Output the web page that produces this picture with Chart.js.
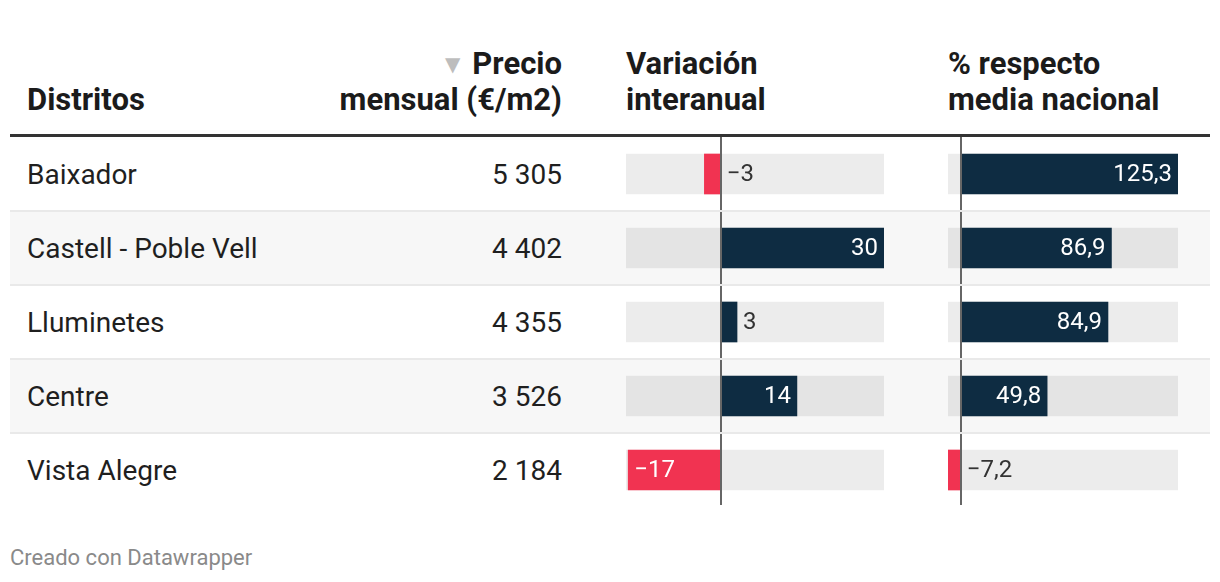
<!DOCTYPE html>
<html><head><meta charset="utf-8">
<script src="https://cdn.jsdelivr.net/npm/chart.js@4.4.1/dist/chart.umd.min.js"></script>
<style>
html,body{margin:0;padding:0;background:#fff;}
#root{position:relative;width:1220px;height:582px;overflow:hidden;font-family:Roboto,"Noto Sans",sans-serif;color:#1d1d1d;}
.abs{position:absolute;white-space:nowrap;}
.hdr{font-weight:700;font-size:31px;line-height:36px;color:#1b1b1b;}
.cell{font-size:28px;line-height:74px;color:#1f1f1f;}
</style></head><body><div id="root"></div>
<script>
// ---- data ----
const districts = ["Baixador", "Castell - Poble Vell", "Lluminetes", "Centre", "Vista Alegre"];
const prices = [5305, 4402, 4355, 3526, 2184];
const variacion = [-3, 30, 3, 14, -17];
const respectoMedia = [125.3, 86.9, 84.9, 49.8, -7.2];
const headerDistritos = "Distritos";
const headerPrecio = ["Precio", "mensual (€/m2)"];
const headerVariacion = ["Variación", "interanual"];
const headerRespecto = ["% respecto", "media nacional"];
const footerText = "Creado con Datawrapper";

// ---- layout ----
const root = document.getElementById('root');
const TOP = 137, ROWH = 74;
function div(cls, style, html){ const d=document.createElement('div'); d.className='abs '+cls; Object.assign(d.style, style); if(html!==undefined) d.innerHTML=html; root.appendChild(d); return d; }

// row backgrounds
districts.forEach((_, i) => {
  if (i % 2 === 1) div('', {left:'10px', top:(TOP+ROWH*i)+'px', width:'1200px', height:ROWH+'px', background:'#f7f7f7', zIndex:0});
});
// headers
div('hdr', {left:'27px', top:'82px'}, headerDistritos);
div('hdr', {right:(1220-562)+'px', top:'46px', textAlign:'right'},
  '<span style="font-family:\'DejaVu Sans\';font-weight:400;font-size:20px;color:#bdbdbd;vertical-align:3px;margin-right:12px">▼</span>' + headerPrecio[0] + '<br>' + headerPrecio[1]);
div('hdr', {left:'626px', top:'46px'}, headerVariacion.join('<br>'));
div('hdr', {left:'948px', top:'46px'}, headerRespecto.join('<br>'));
div('', {left:'10px', top:'134px', width:'1200px', height:'3px', background:'#333', zIndex:3});

function fmtThousands(v){ return String(v).replace(/\B(?=(\d{3})+(?!\d))/g, ' '); }
districts.forEach((d, i) => {
  div('cell', {left:'27px', top:(TOP+ROWH*i+1)+'px', zIndex:2}, d);
  div('cell', {right:(1220-562)+'px', top:(TOP+ROWH*i+1)+'px', textAlign:'right', zIndex:2}, fmtThousands(prices[i]));
  if (i < districts.length-1) div('', {left:'10px', top:(TOP+ROWH*(i+1)-1)+'px', width:'1200px', height:'2px', background:'#e9e9e9', zIndex:3});
});
div('', {left:'10px', top:'545px', fontSize:'22px', lineHeight:'26px', color:'#8a8a8a'}, footerText);

// ---- charts ----
const POS = '#0e2c42', NEG = '#f13351', TRACK = 'rgba(0,0,0,0.075)';
function fmt(dec){ return v => (v < 0 ? '\u2212' : '') + Math.abs(v).toFixed(dec).replace('.', ','); }

const zeroAndLabels = {
  id: 'zeroAndLabels',
  afterDatasetsDraw(chart, args, opts) {
    const ctx = chart.ctx, x = chart.scales.x, area = chart.chartArea;
    const z = Math.round(x.getPixelForValue(0));
    ctx.save();
    ctx.fillStyle = '#666';
    ctx.fillRect(z - 1, area.top, 2, area.bottom - area.top - 2);
    ctx.font = '24px Roboto, "Noto Sans", sans-serif';
    ctx.textBaseline = 'middle';
    const meta = chart.getDatasetMeta(0);
    const data = chart.data.datasets[0].data;
    meta.data.forEach((el, i) => {
      const v = data[i];
      const txt = opts.format(v);
      const w = ctx.measureText(txt).width;
      const len = Math.abs(el.x - el.base);
      const pad = 6;
      if (w + pad * 2 <= len) {
        ctx.fillStyle = '#fff';
        if (v >= 0) { ctx.textAlign = 'right'; ctx.fillText(txt, el.x - pad, el.y + 1); }
        else { ctx.textAlign = 'left'; ctx.fillText(txt, el.x + pad, el.y + 1); }
      } else {
        ctx.fillStyle = '#333';
        ctx.textAlign = 'left';
        const sx = v >= 0 ? el.x + pad : el.base + pad;
        ctx.fillText(txt, sx, el.y + 1);
      }
    });
    ctx.restore();
  }
};

function makeChart(left, width, values, min, max, dec) {
  const wrap = div('', {left:left+'px', top:TOP+'px', width:width+'px', height:(ROWH*districts.length)+'px', zIndex:1});
  const c = document.createElement('canvas');
  c.width = width; c.height = ROWH*districts.length;
  wrap.appendChild(c);
  new Chart(c, {
    type: 'bar',
    data: {
      labels: districts,
      datasets: [
        { data: values, backgroundColor: values.map(v => v < 0 ? NEG : POS), barThickness: 40, grouped: false, order: 0 },
        { data: values.map(() => [min, max]), backgroundColor: TRACK, barThickness: 40, grouped: false, order: 1 }
      ]
    },
    options: {
      indexAxis: 'y',
      responsive: false,
      animation: false,
      devicePixelRatio: 1,
      layout: { padding: 0 },
      plugins: { legend: { display: false }, tooltip: { enabled: false }, zeroAndLabels: { format: fmt(dec) } },
      scales: {
        x: { display: false, min: min, max: max },
        y: { display: false }
      }
    },
    plugins: [zeroAndLabels]
  });
}
makeChart(626, 258, variacion, -17.4, 30, 0);
makeChart(948, 230, respectoMedia, -7.4, 125.3, 1);
</script></body></html>
